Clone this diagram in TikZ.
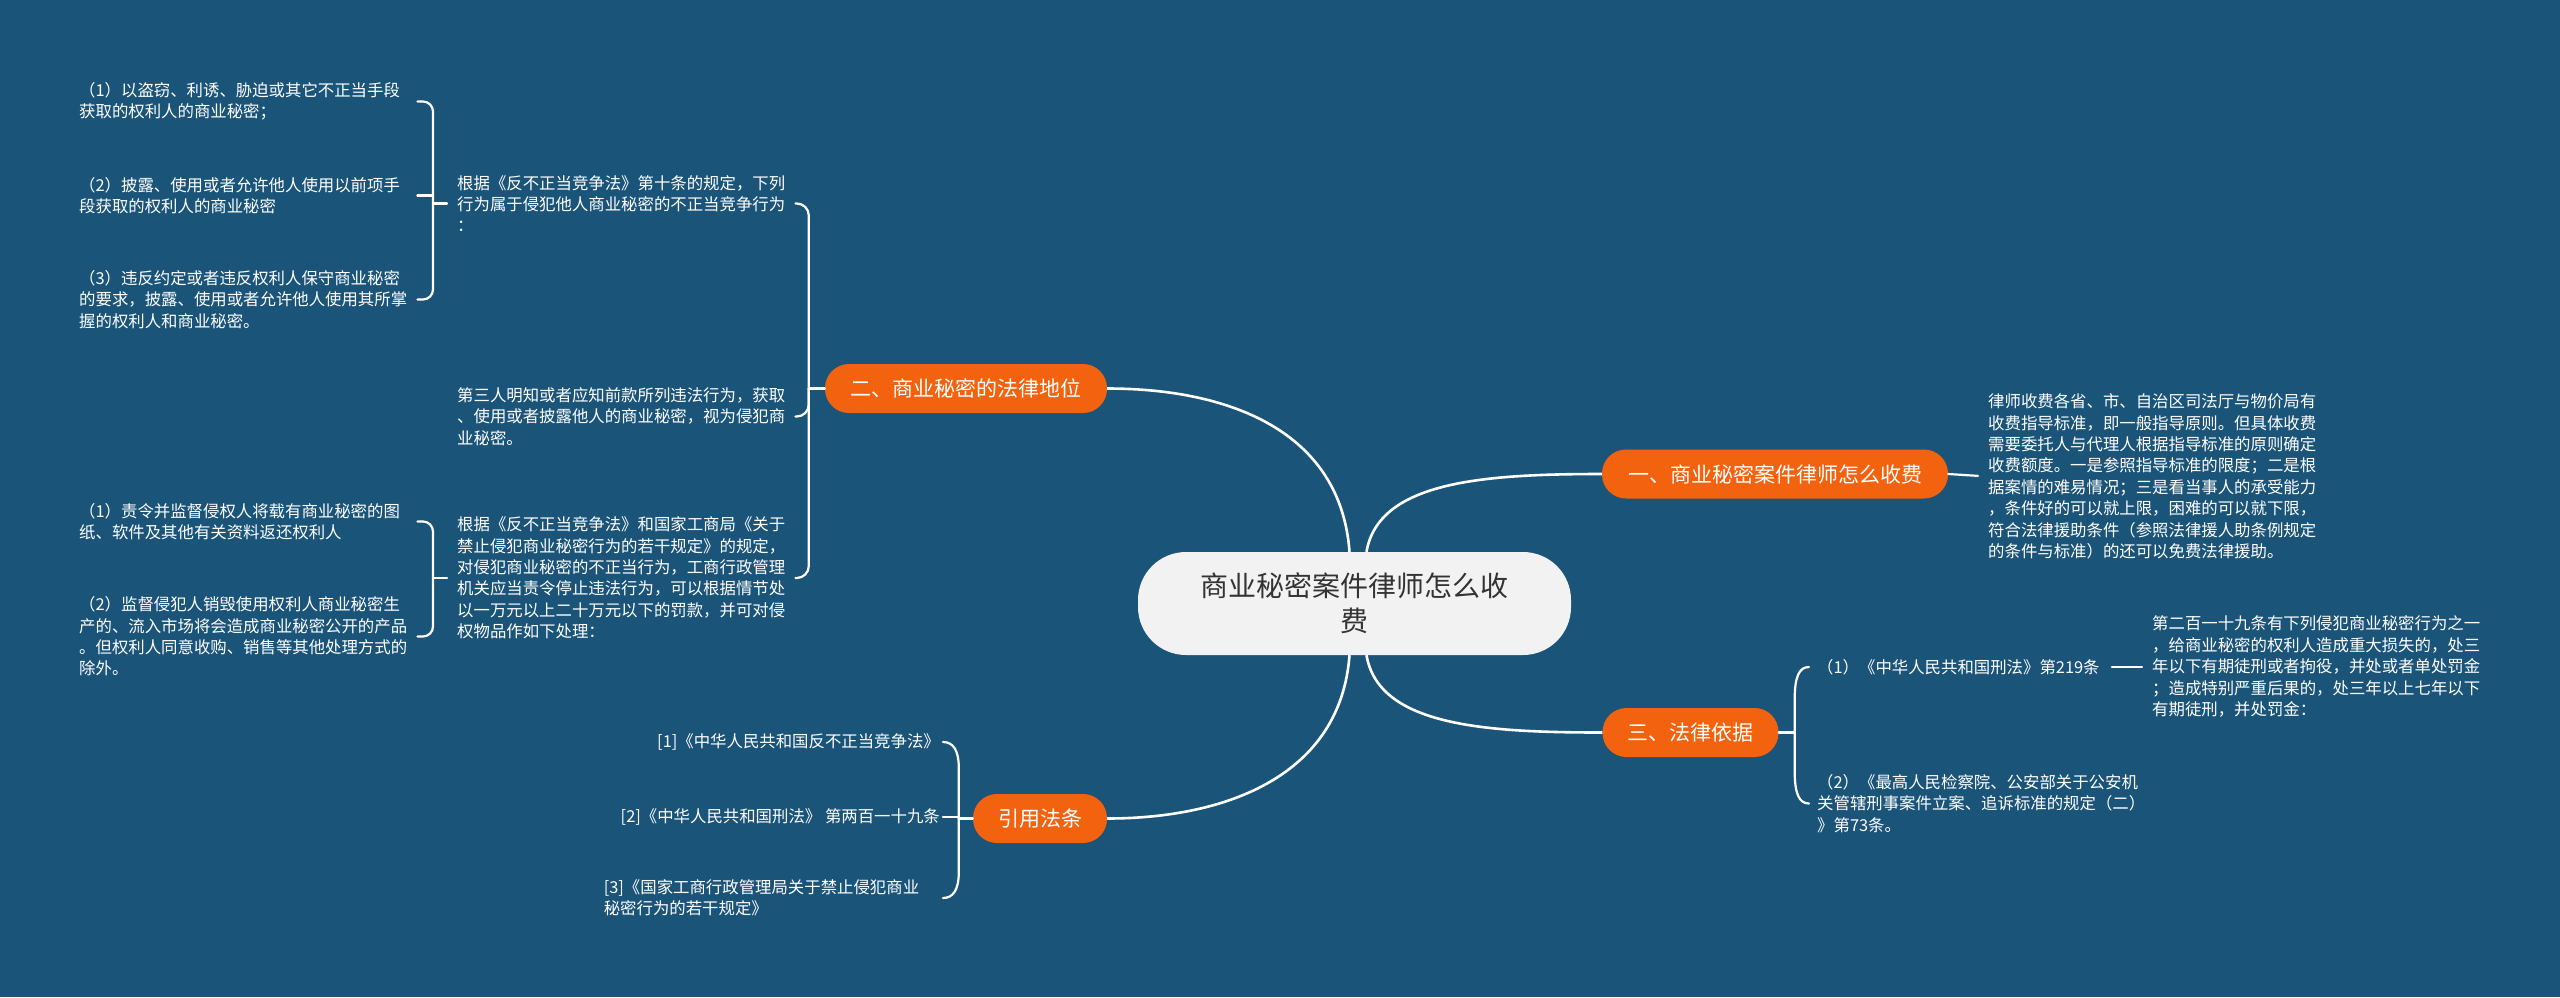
\documentclass[tikz,border=0pt]{standalone}
\usepackage{fontspec}
\setmainfont{Noto Sans CJK SC}
\usetikzlibrary{calc}
\definecolor{bg}{RGB}{27,84,121}
\definecolor{org}{RGB}{243,98,14}
\definecolor{ctr}{RGB}{242,242,242}
\definecolor{ctrtext}{RGB}{51,51,51}
\begin{document}
\begin{tikzpicture}[x=1pt,y=-1pt,
  conn/.style={draw=white, line width=2.6pt},
  brk/.style={draw=white, line width=2.2pt, line cap=round},
  txt/.style={text=white, font=\fontsize{16.4pt}{21.4pt}\selectfont, align=left, inner sep=0pt, text width=336pt},
  txtone/.style={text=white, font=\fontsize{16.4pt}{21.4pt}\selectfont, inner sep=0pt},
  topic/.style={fill=org, text=white, font=\fontsize{21pt}{26pt}\selectfont, rounded corners=24pt, minimum height=49pt, inner xsep=25pt, inner ysep=0pt},
  root/.style={fill=ctr, text=ctrtext, font=\fontsize{28pt}{35pt}\selectfont, align=center, rounded corners=48pt, minimum width=433pt, minimum height=103pt}
]
\fill[bg] (0,0) rectangle (2560,997);
\useasboundingbox (0,0) rectangle (2560,997);

% central and topics
\node[root] (root) at (1354.5,603.5) {商业秘密案件律师怎么收\\费};
\node[topic, minimum width=346pt] (t1) at (1775,474) {一、商业秘密案件律师怎么收费};
\node[topic, minimum width=282pt] (t2) at (966,388.5) {二、商业秘密的法律地位};
\node[topic, minimum width=175pt] (t3) at (1690.5,732.5) {三、法律依据};
\node[topic, minimum width=134pt] (t4) at (1040,818.5) {引用法条};

% left column texts
\node[txt, anchor=west] (a1) at (79,101.5) {（1）以盗窃、利诱、胁迫或其它不正当手段\\获取的权利人的商业秘密；};
\node[txt, anchor=west] (a2) at (79,195.5) {（2）披露、使用或者允许他人使用以前项手\\段获取的权利人的商业秘密};
\node[txt, anchor=west] (a3) at (79,299.5) {（3）违反约定或者违反权利人保守商业秘密\\的要求，披露、使用或者允许他人使用其所掌\\握的权利人和商业秘密。};
\node[txt, anchor=west] (b1) at (79,521.5) {（1）责令并监督侵权人将载有商业秘密的图\\纸、软件及其他有关资料返还权利人};
\node[txt, anchor=west] (b2) at (79,636.5) {（2）监督侵犯人销毁使用权利人商业秘密生\\产的、流入市场将会造成商业秘密公开的产品\\。但权利人同意收购、销售等其他处理方式的\\除外。};

% second column texts
\node[txt, anchor=west] (p1) at (457,203.5) {根据《反不正当竞争法》第十条的规定，下列\\行为属于侵犯他人商业秘密的不正当竞争行为\\：};
\node[txt, anchor=west] (p2) at (457,416.5) {第三人明知或者应知前款所列违法行为，获取\\、使用或者披露他人的商业秘密，视为侵犯商\\业秘密。};
\node[txt, anchor=west] (p3) at (457,578) {根据《反不正当竞争法》和国家工商局《关于\\禁止侵犯商业秘密行为的若干规定》的规定，\\对侵犯商业秘密的不正当行为，工商行政管理\\机关应当责令停止违法行为，可以根据情节处\\以一万元以上二十万元以下的罚款，并可对侵\\权物品作如下处理：};

% citations
\node[txtone, anchor=east] (r1) at (940,742) {[1]《中华人民共和国反不正当竞争法》};
\node[txtone, anchor=east] (r2) at (940,817) {[2]《中华人民共和国刑法》 第两百一十九条};
\node[txt, anchor=east] (r3) at (940,898) {[3]《国家工商行政管理局关于禁止侵犯商业\\秘密行为的若干规定》};

% right side texts
\node[txt, anchor=west] (e1) at (1988,476.5) {律师收费各省、市、自治区司法厅与物价局有\\收费指导标准，即一般指导原则。但具体收费\\需要委托人与代理人根据指导标准的原则确定\\收费额度。一是参照指导标准的限度；二是根\\据案情的难易情况；三是看当事人的承受能力\\，条件好的可以就上限，困难的可以就下限，\\符合法律援助条件（参照法律援人助条例规定\\的条件与标准）的还可以免费法律援助。};
\node[txtone, anchor=west] (c1) at (1817,667) {（1）《中华人民共和国刑法》第219条};
\node[txt, anchor=west] (c2) at (1817,803.5) {（2）《最高人民检察院、公安部关于公安机\\关管辖刑事案件立案、追诉标准的规定（二）\\》第73条。};
\node[txt, anchor=west] (d1) at (2152,666.5) {第二百一十九条有下列侵犯商业秘密行为之一\\，给商业秘密的权利人造成重大损失的，处三\\年以下有期徒刑或者拘役，并处或者单处罚金\\；造成特别严重后果的，处三年以上七年以下\\有期徒刑，并处罚金：};

% main connectors
\draw[conn] ([xshift=12pt]root.north) .. controls +(12,-70) and +(-120,0) .. (t1.west);
\draw[conn] ([xshift=12pt]root.south) .. controls +(12,70) and +(-120,0) .. (t3.west);
\draw[conn] ([xshift=-5pt]root.north) .. controls +(-9,-122) and +(120,0) .. (t2.east);
\draw[conn] ([xshift=-5pt]root.south) .. controls +(-9,120) and +(120,0) .. (t4.east);

% topic one -> text
\draw[brk, shorten >=10pt] (t1.east) -- (e1.west);

% bracket of topic two
\coordinate (j2) at ($(t2.west)+(-16,0)$);
\draw[brk] (t2.west) -- (j2);
\draw[brk, rounded corners=12pt] (j2) -- (j2 |- p1.east) -- ([xshift=2pt]p1.east);
\draw[brk, rounded corners=12pt] (j2) -- (j2 |- p2.east) -- ([xshift=2pt]p2.east);
\draw[brk, rounded corners=12pt] (j2) -- (j2 |- p3.east) -- ([xshift=2pt]p3.east);

% bracket of p1
\coordinate (jA) at ($(p1.west)+(-24,0)$);
\draw[brk, shorten <=10pt] (p1.west) -- (jA);
\draw[brk, rounded corners=10pt] (jA) -- (jA |- a1.east) -- ([xshift=2pt]a1.east);
\draw[brk] ([xshift=2pt]a2.east) -- (a2.east -| jA);
\draw[brk, rounded corners=10pt] (jA) -- (jA |- a3.east) -- ([xshift=2pt]a3.east);

% bracket of p3
\coordinate (jC) at ($(p3.west)+(-24,0)$);
\draw[brk, shorten <=10pt] (p3.west) -- (jC);
\draw[brk, rounded corners=10pt] (jC) -- (jC |- b1.east) -- ([xshift=2pt]b1.east);
\draw[brk, rounded corners=10pt] (jC) -- (jC |- b2.east) -- ([xshift=2pt]b2.east);

% bracket of topic three
\coordinate (j3) at ($(t3.east)+(16,0)$);
\draw[brk] (t3.east) -- (j3);
\draw[brk] (j3) -- ($(j3 |- c1.west)+(0,32)$) .. controls ($(j3 |- c1.west)+(0,10)$) and ($(c1.west)+(-18,0)$) .. ($(c1.west)+(-8,0)$);
\draw[brk] (j3) -- ($(j3 |- c2.west)+(0,-32)$) .. controls ($(j3 |- c2.west)+(0,-10)$) and ($(c2.west)+(-18,0)$) .. ($(c2.west)+(-8,0)$);
\draw[brk, shorten <=12pt, shorten >=10pt] (c1.east) -- (d1.west |- c1.east);

% bracket of citations
\coordinate (j4) at ($(t4.west)+(-14,0)$);
\draw[brk] (t4.west) -- (j4);
\draw[brk] (j4) -- ($(j4 |- r1.east)+(0,26)$) .. controls ($(j4 |- r1.east)+(0,8)$) and ($(r1.east)+(13,0)$) .. ($(r1.east)+(3,0)$);
\draw[brk] ([xshift=3pt]r2.east) -- (r2.east -| j4);
\draw[brk] (j4) -- ($(j4 |- r3.east)+(0,-26)$) .. controls ($(j4 |- r3.east)+(0,-8)$) and ($(r3.east)+(13,0)$) .. ($(r3.east)+(3,0)$);
\end{tikzpicture}
\end{document}
